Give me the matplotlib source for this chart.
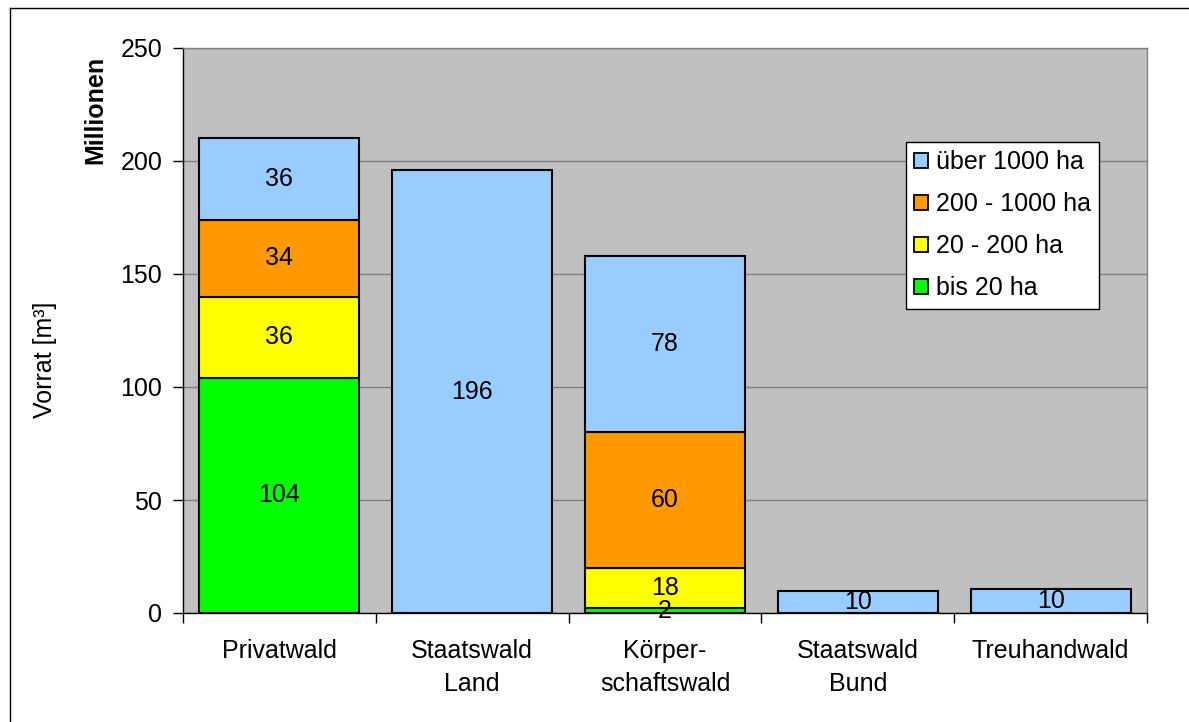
import matplotlib
matplotlib.use("Agg")
import matplotlib.pyplot as plt
import numpy as np
from matplotlib.lines import Line2D

# data (Mio. m³)
categories = ["Privatwald", "Staatswald\nLand", "Körper-\nschaftswald", "Staatswald\nBund", "Treuhandwald"]
series_names = ["bis 20 ha", "20 - 200 ha", "200 - 1000 ha", "über 1000 ha"]
bis_20 = [104, 0, 2, 0, 0]
ha_20_200 = [36, 0, 18, 0, 0]
ha_200_1000 = [34, 0, 60, 0, 0]
ueber_1000 = [36, 196, 78, 9.7, 10.5]
colors = ["#00FF00", "#FFFF00", "#FF9900", "#99CCFF"]

plt.rcParams['font.family'] = ['Liberation Sans', 'DejaVu Sans']
fs = 18

fig = plt.figure(figsize=(11.89, 7.22), dpi=100)
ax = fig.add_axes([183 / 1189, 109 / 722, 964 / 1189, 565 / 722])
ax.set_facecolor("#C0C0C0")

x = np.arange(len(categories))
bottom = np.zeros(len(categories))
handles = []
for name, vals, col in zip(series_names, [bis_20, ha_20_200, ha_200_1000, ueber_1000], colors):
    vals = np.array(vals, dtype=float)
    mask = vals > 0
    ax.bar(x[mask], vals[mask], bottom=bottom[mask], width=0.83, color=col,
           edgecolor="black", linewidth=1.5, zorder=3)
    for xi, v, b in zip(x[mask], vals[mask], bottom[mask]):
        ax.text(xi, b + v / 2, f"{v:.0f}", ha="center", va="center", fontsize=fs, zorder=4)
    bottom += vals
    handles.append(plt.Rectangle((0, 0), 1, 1, facecolor=col, edgecolor="black", linewidth=1.3))

ax.set_xlim(-0.5, len(categories) - 0.5)
ax.set_ylim(0, 250)
ax.set_yticks(range(0, 251, 50))
ax.yaxis.grid(True, color="#808080", linewidth=1.0, zorder=1)
ax.set_axisbelow(True)

ax.set_xticks(x)
ax.set_xticklabels(categories, fontsize=fs, linespacing=1.45)
ax.set_xticks(np.arange(-0.5, len(categories)), minor=True)
ax.tick_params(axis="x", which="major", length=0, pad=19)
ax.tick_params(axis="x", which="minor", length=7, width=1.0, direction="out", color="black")
ax.tick_params(axis="y", labelsize=fs, length=7, width=1.0, pad=8, color="black")

for side in ["top", "right"]:
    ax.spines[side].set_color("#808080")
    ax.spines[side].set_linewidth(1.0)
for side in ["left", "bottom"]:
    ax.spines[side].set_color("black")
    ax.spines[side].set_linewidth(1.0)

leg = ax.legend(handles[::-1], series_names[::-1], loc="upper left", bbox_to_anchor=(0.7497, 0.8345),
                fontsize=fs, frameon=True, fancybox=False, framealpha=1, edgecolor="black",
                handlelength=0.55, handleheight=0.55, handletextpad=0.3, labelspacing=0.72,
                borderpad=0.35, borderaxespad=0)
leg.get_frame().set_linewidth(1.0)

fig.text(45 / 1189, 1 - 360 / 722, "Vorrat [m³]", rotation=90, ha="center", va="center", fontsize=fs)
fig.text(95 / 1189, 1 - 110 / 722, "Millionen", rotation=90, ha="center", va="center",
         fontsize=fs, fontweight="bold")

# outer chart border (left and top visible)
fig.add_artist(Line2D([9.5 / 1189, 9.5 / 1189], [0, 1 - 7.5 / 722], transform=fig.transFigure,
                      color="black", linewidth=1.0))
fig.add_artist(Line2D([9.5 / 1189, 1], [1 - 7.5 / 722, 1 - 7.5 / 722], transform=fig.transFigure,
                      color="black", linewidth=1.0))

fig.savefig("out.png", dpi=100)
